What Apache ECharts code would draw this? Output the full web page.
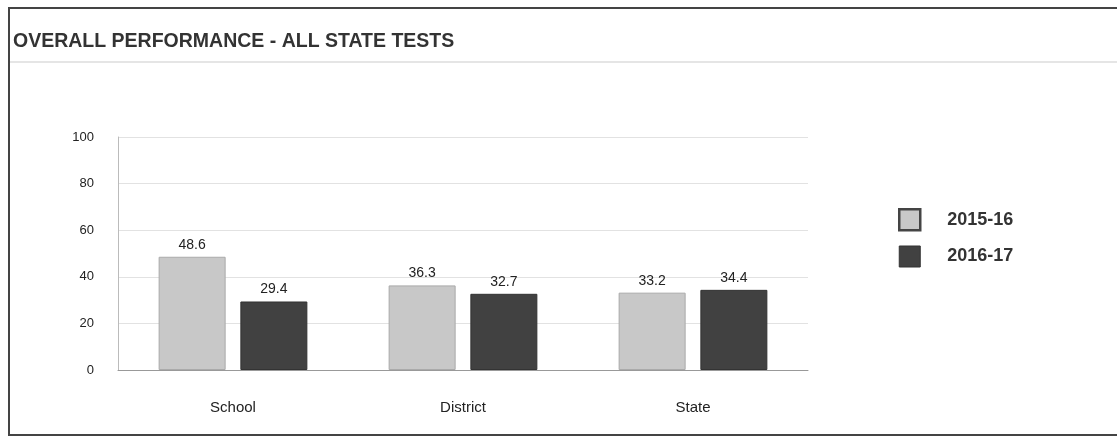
<!DOCTYPE html>
<html><head><meta charset="utf-8">
<script src="https://cdn.jsdelivr.net/npm/echarts@6/dist/echarts.min.js"></script>
<style>
html,body{margin:0;padding:0;background:#fff;}
#frame{position:absolute;left:8px;top:7px;width:1200px;height:425px;border-left:2px solid #444;border-top:2px solid #444;border-bottom:2px solid #444;}
#c{position:absolute;left:0;top:0;width:1117px;height:437px;}
</style>
</head><body>
<div id="frame"></div>
<div id="c"></div>
<script>
const categories = ['School', 'District', 'State'];
const seriesNames = ['2015-16', '2016-17'];
const values2015 = [48.6, 36.3, 33.2];
const values2016 = [29.4, 32.7, 34.4];
const yTicks = [0, 20, 40, 60, 80, 100];

const font = '"Liberation Sans", Arial, sans-serif';
const chart = echarts.init(document.getElementById('c'));
chart.setOption({
  animation: false,
  title: {
    text: 'OVERALL PERFORMANCE - ALL STATE TESTS',
    left: 8, top: 27,
    textStyle: {fontFamily: font, fontSize: 19.5, fontWeight: 'bold', color: '#333'}
  },
  graphic: [{
    type: 'line', shape: {x1: 10, y1: 62, x2: 1117, y2: 62},
    style: {stroke: '#ddd', lineWidth: 1.5}
  }],
  legend: {
    orient: 'vertical', left: 893, top: 203,
    itemWidth: 21, itemHeight: 21, itemGap: 14,
    icon: 'rect',
    textStyle: {fontFamily: font, fontSize: 18, fontWeight: 'bold', color: '#333', padding: [0, 0, 0, 22]},
    data: [
      {name: seriesNames[0], itemStyle: {color: '#c8c8c8', borderColor: '#444', borderWidth: 2.5}},
      {name: seriesNames[1], itemStyle: {color: '#414141', borderColor: '#333', borderWidth: 1}}
    ]
  },
  grid: {left: 118, right: 309, top: 137, bottom: 67},
  xAxis: {
    type: 'category', data: categories,
    axisLine: {lineStyle: {color: '#999'}},
    axisTick: {show: false},
    axisLabel: {fontFamily: font, fontSize: 15, color: '#222', margin: 30}
  },
  yAxis: {
    type: 'value', min: 0, max: 100, interval: 20,
    axisLine: {show: true, lineStyle: {color: '#bbb'}},
    axisTick: {show: false},
    axisLabel: {fontFamily: font, fontSize: 13, color: '#222', margin: 24,
      formatter: v => yTicks.includes(v) ? String(v) : ''},
    splitLine: {lineStyle: {color: '#e2e2e2'}}
  },
  series: [
    {
      name: seriesNames[0], type: 'bar', data: values2015,
      barWidth: 67, barGap: '22%',
      itemStyle: {color: '#c8c8c8', borderColor: '#aaa', borderWidth: 1},
      label: {show: true, position: 'top', fontFamily: font, fontSize: 14, color: '#222', formatter: p => p.value.toFixed(1)}
    },
    {
      name: seriesNames[1], type: 'bar', data: values2016,
      barWidth: 67,
      itemStyle: {color: '#414141', borderColor: '#333', borderWidth: 1},
      label: {show: true, position: 'top', fontFamily: font, fontSize: 14, color: '#222', formatter: p => p.value.toFixed(1)}
    }
  ]
});
</script>
</body></html>
